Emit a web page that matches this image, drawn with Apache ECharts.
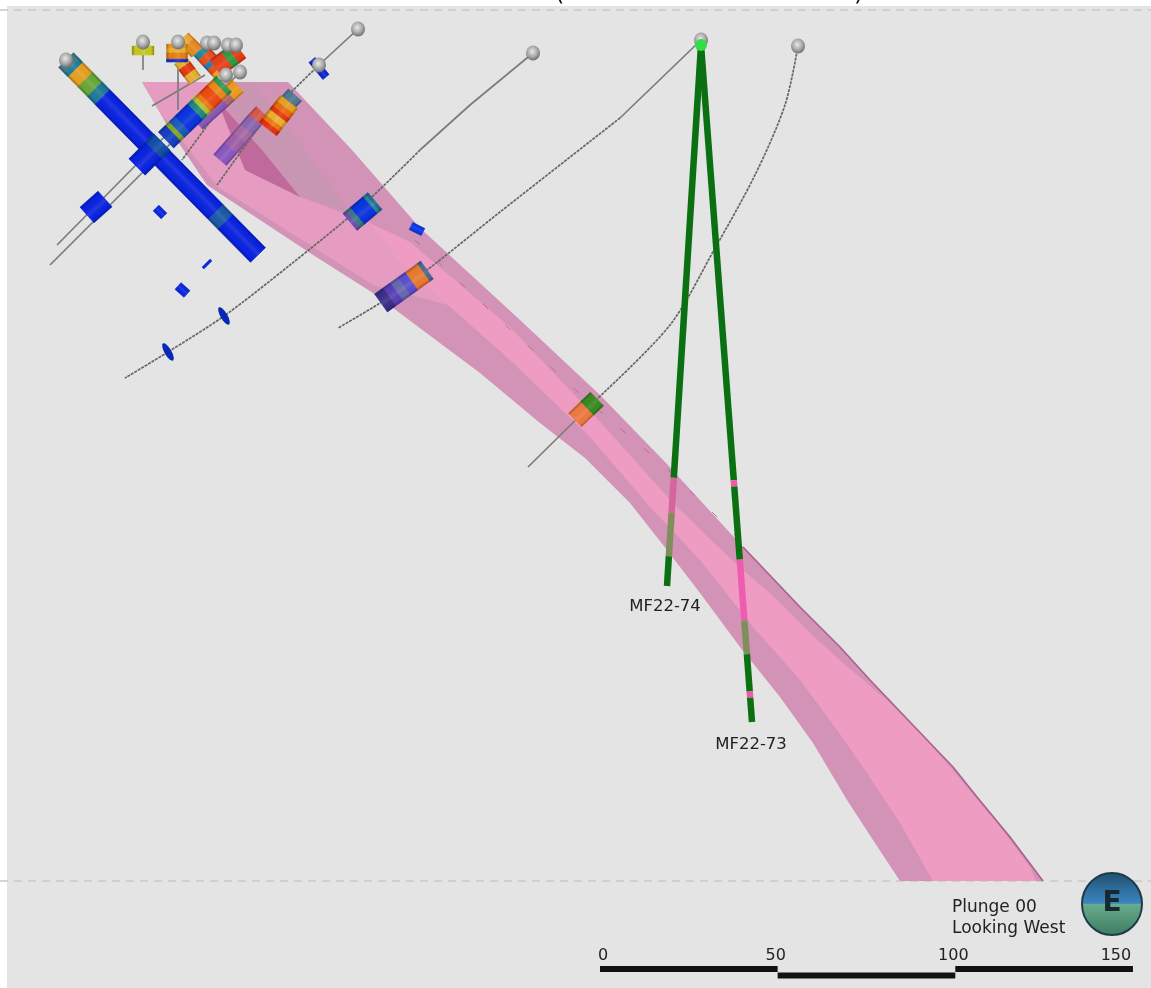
<!DOCTYPE html>
<html>
<head>
<meta charset="utf-8">
<style>html,body{margin:0;padding:0;background:#fff}#c{width:1151px;height:988px}</style>
<script src="https://cdn.jsdelivr.net/npm/echarts@6/dist/echarts.min.js"></script>
</head>
<body>
<div id="c"></div>
<script>
// Section outline and zones (section units)
var viewFrame = [[7,6],[1151,6],[1151,988],[7,988]];
var zoneOutline = [[142,82],[288,82],[352,150],[420,228],[520,320],[600,395],[665,462],[743,547],[800,607],[840,647],[870,680],[930,743],[953,767],[977,797],[1010,837],[1043,881],[900,881],[873,840],[847,800],[813,743],[780,697],[740,647],[700,593],[667,550],[630,503],[585,458],[540,423],[480,373],[373,293],[310,253],[207,185],[170,130]];
var upperLobe = [[142,82],[222,82],[222,100],[245,170],[300,197],[370,223],[420,250],[448,305],[373,285],[310,245],[218,187],[160,112]];
var coreRibbon = [[370,223],[410,242],[510,327],[603,425],[673,503],[737,565],[770,593],[810,633],[843,663],[887,700],[927,740],[967,787],[1000,827],[1030,867],[1036,881],[933,881],[900,823],[867,773],[837,730],[800,680],[753,627],[700,560],[650,507],[590,437],[510,360],[448,305],[400,262]];
var greyWedge = [[222,82],[253,83],[350,212],[300,197],[222,100]];
var darkWedge = [[217,100],[245,170],[300,197],[262,150]];
var zoneEdge = [[743,547],[800,607],[840,647],[870,680],[930,743],[953,767],[977,797],[1010,837],[1043,881]];
var innerTrace = [[415,240],[470,292],[570,385],[610,420],[660,462],[712,512],[745,545]];

// Drill traces
var traceSolid = [
  [[227,75],[133,168],[57,245]],
  [[240,72],[140,175],[50,265]],
  [[143,45],[143,70]],
  [[178,45],[178,110]],
  [[205,75],[152,106]],
  [[358,29],[319,65]],
  [[533,53],[470,105],[420,150]],
  [[701,40],[620,118]],
  [[597,399],[528,467]]
];
var traceDotted = [
  [[319,65],[285,98]],
  [[258,128],[217,185]],
  [[237,85],[182,160]],
  [[420,150],[363,205],[290,265],[224,316],[168,352],[125,378]],
  [[620,118],[500,212],[427,270],[380,303],[338,328]],
  [[798,46],[785,105],[755,175],[714,250],[670,325],[597,399]]
];

// Cored intervals: from, to, width, [end fraction, colour] bands
var coresBack = [
  {a:[183,38],b:[197,52],w:15,bands:[[0.4,'#f0a830'],[1,'#e88a20']]},
  {a:[180,60],b:[195,80],w:14,bands:[[0.3,'#e8b030'],[0.65,'#e63a10'],[1,'#e8b030']]},
  {a:[200,50],b:[222,74],w:17,bands:[[0.2,'#1f8a9a'],[0.45,'#e8501a'],[0.62,'#2a7ab8'],[0.82,'#e8501a'],[1,'#f0a030']]},
  {a:[240,50],b:[216,68],w:20,bands:[[0.3,'#e63a10'],[0.55,'#2f9a40'],[1,'#e8401a']]},
  {a:[238,86],b:[197,123],w:17,bands:[[0.22,'#ee9a20'],[0.38,'#b06a70'],[1,'#8a58b8']]},
  {a:[295,95],b:[270,122],w:18,bands:[[1,'#4f7a92']]},
  {a:[262,112],b:[250,125],w:16,bands:[[1,'#d8584a']]},
  {a:[255,120],b:[220,160],w:17,bands:[[0.25,'#8e66b0'],[0.45,'#a86aa8'],[0.7,'#a060a8'],[1,'#8a58c0']]}
];
var coresFront = [
  {a:[66,60],b:[258,255],w:21,bands:[[0.03,'#4a7c8c'],[0.05,'#1f7f9a'],[0.1,'#e8a020'],[0.15,'#6aa838'],[0.19,'#1f7a9a'],[0.78,'#0a23e0'],[0.83,'#1a5aa8'],[1,'#0a23e0']]},
  {a:[224,84],b:[166,140],w:22,bands:[[0.07,'#3a9a50'],[0.16,'#ee8a18'],[0.3,'#ef4a10'],[0.36,'#ee7a18'],[0.42,'#b8c030'],[0.5,'#1f8a80'],[0.72,'#0a35e0'],[0.82,'#1a5ac0'],[0.88,'#80a820'],[1,'#143fc0']]},
  {a:[162,142],b:[137,167],w:23,bands:[[0.35,'#124fa8'],[1,'#0a23e0']]},
  {a:[105,199],b:[87,215],w:21,bands:[[1,'#0a23e0']]},
  {a:[143,46],b:[143,55],w:22,bands:[[1,'#c8c820']]},
  {a:[177,44],b:[177,62],w:21,bands:[[0.25,'#ee9a20'],[0.5,'#f0b030'],[0.85,'#e88018'],[1,'#1030d0']]},
  {a:[289,102],b:[268,129],w:22,bands:[[0.2,'#e8a020'],[0.38,'#ee6a10'],[0.52,'#e63a10'],[0.72,'#f0b030'],[0.86,'#ee7a10'],[1,'#e8300c']]},
  {a:[375,201],b:[350,222],w:22,bands:[[0.1,'#1f6a9a'],[0.2,'#2a8a90'],[0.72,'#0a35e0'],[0.88,'#3a7a80'],[1,'#6a50b0']]},
  {a:[427,270],b:[381,303],w:22,bands:[[0.08,'#4a6a92'],[0.34,'#ea7a32'],[0.5,'#5a50d0'],[0.66,'#6a68b0'],[0.82,'#5a40b8'],[1,'#3a3088']]},
  {a:[597,399],b:[575,420],w:19,bands:[[0.46,'#3a8a20'],[1,'#ee7a40']]},
  {a:[156,208],b:[164,216],w:8,bands:[[1,'#0a28e0']]},
  {a:[178,286],b:[187,294],w:9,bands:[[1,'#0a28e0']]},
  {a:[203,268],b:[211,260],w:2.5,bands:[[1,'#0a28e0']]},
  {a:[411,226],b:[423,232],w:8,bands:[[1,'#0a38e8']]},
  {a:[312,60],b:[326,77],w:8,bands:[[1,'#0a28d8']]}
];
var blueLenses = [[224,316],[168,352]];

// The two named holes: collar, toe, [from, to, colour] fractions
var holeCollar = [701,45];
var hole74 = {toe:[667,586],intervals:[[0,0.80,'#0a7012'],[0.80,0.865,'#d8649e'],[0.865,0.945,'#7f8f5c'],[0.945,1,'#0a7012']]};
var hole73 = {toe:[752,722],intervals:[[0,0.643,'#0a7012'],[0.643,0.652,'#ee5aa8'],[0.652,0.76,'#0a7012'],[0.76,0.85,'#ee5cb0'],[0.85,0.90,'#7f8f5c'],[0.90,0.955,'#0a7012'],[0.955,0.964,'#ee5aa8'],[0.964,1,'#0a7012']]};
var holeLabels = [{name:'MF22-74',at:[665,607]},{name:'MF22-73',at:[751,745]}];

var collars = [[143,42],[178,42],[207,43],[214,43],[228,45],[236,45],[226,75],[240,72],[66,60],[358,29],[319,65],[533,53],[701,40],[798,46]];

// Scale
var scaleTicks = [0,50,100,150];
var scaleLabelNudge = [3,-2,-2,-17];
var scaleLevels = [969,975.5,969];
var scaleLabelY = 956;
var dashedRules = [10,881];
var plungeText = ['Plunge 00','Looking West'];
var plungeAt = [952,918];
var globeAt = [1112,904];

function polygonItem(points, fill){
  return function(params, api){
    return {type:'polygon', shape:{points:points.map(function(p){return api.coord(p);})}, style:{fill:fill}, silent:true};
  };
}
function polySeries(name, points, fill, z){
  return {type:'custom', name:name, coordinateSystem:'cartesian2d', data:[0], z:z, silent:true, clip:false, renderItem:polygonItem(points, fill)};
}
function quad(api, a, b, w){
  var p = api.coord(a), q = api.coord(b);
  var dx = q[0]-p[0], dy = q[1]-p[1], l = Math.sqrt(dx*dx+dy*dy)||1;
  var nx = -dy/l*w/2, ny = dx/l*w/2;
  return {pts:[[p[0]+nx,p[1]+ny],[q[0]+nx,q[1]+ny],[q[0]-nx,q[1]-ny],[p[0]-nx,p[1]-ny]], nx:nx, ny:ny, p:p, q:q};
}
function coreSeries(list, z){
  return {type:'custom', coordinateSystem:'cartesian2d', data:list.map(function(_,i){return i;}), z:z, silent:true, clip:false,
    renderItem:function(params, api){
      var c = list[params.dataIndex], kids = [], start = 0;
      c.bands.forEach(function(bd){
        var A = [c.a[0]+(c.b[0]-c.a[0])*start, c.a[1]+(c.b[1]-c.a[1])*start];
        var B = [c.a[0]+(c.b[0]-c.a[0])*bd[0], c.a[1]+(c.b[1]-c.a[1])*bd[0]];
        kids.push({type:'polygon', shape:{points:quad(api,A,B,c.w).pts}, style:{fill:bd[1], stroke:bd[1], lineWidth:0.6}});
        start = bd[0];
      });
      var o = quad(api,c.a,c.b,c.w);
      if (c.w > 6) kids.push({type:'polygon', shape:{points:o.pts}, style:{
        fill:new echarts.graphic.LinearGradient(o.p[0]+o.nx,o.p[1]+o.ny,o.p[0]-o.nx,o.p[1]-o.ny,[
          {offset:0,color:'rgba(0,0,40,0.3)'},{offset:0.16,color:'rgba(0,0,0,0)'},{offset:0.55,color:'rgba(255,255,255,0.1)'},{offset:0.85,color:'rgba(0,0,0,0)'},{offset:1,color:'rgba(0,0,40,0.3)'}],true)
      }});
      return {type:'group', children:kids};
    }};
}
function lineSeries(points, color, width, dash, z, smooth){
  return {type:'line', data:points, symbol:'none', z:z, silent:true, clip:false, smooth:smooth||false, animation:false,
    lineStyle:{color:color, width:width, type:dash||'solid'}};
}
function holeSeries(hole, z){
  return {type:'custom', coordinateSystem:'cartesian2d', data:hole.intervals.map(function(_,i){return i;}), z:z, silent:true, clip:false,
    renderItem:function(params, api){
      var t = hole.intervals[params.dataIndex];
      var at = function(f){return [holeCollar[0]+(hole.toe[0]-holeCollar[0])*f, holeCollar[1]+(hole.toe[1]-holeCollar[1])*f];};
      return {type:'polygon', shape:{points:quad(api,at(t[0]),at(t[1]),6.5).pts}, style:{fill:t[2]}};
    }};
}

var series = [];
series.push(polySeries('frame', viewFrame, '#e4e4e4', 1));
dashedRules.forEach(function(y){
  series.push(lineSeries([[0,y],[1151,y]], '#c8c8c8', 1.4, [8,6], 2));
});
series.push(polySeries('zone', zoneOutline, '#d293b6', 3));
series.push(polySeries('lobe', upperLobe, '#e69cc1', 4));
series.push(polySeries('core', coreRibbon, '#ee9cc2', 4));
series.push(polySeries('grey', greyWedge, '#c896b2', 5));
series.push(polySeries('dark', darkWedge, '#c06a9c', 6));
series.push(lineSeries(zoneEdge, '#a8628c', 1.6, 'solid', 7));
series.push(lineSeries(innerTrace, '#b86e98', 1, [7,24], 7));
traceSolid.forEach(function(t){ series.push(lineSeries(t, '#7c7c7c', 1.7, 'solid', 8)); });
traceDotted.forEach(function(t){ series.push(lineSeries(t, '#666666', 1.7, [3,1], 8, 0.3)); });
series.push(coreSeries(coresBack, 9));
series.push(coreSeries(coresFront, 10));
series.push({type:'scatter', data:blueLenses, symbol:'circle', symbolSize:[7,20], symbolRotate:30, z:10, silent:true, clip:false, itemStyle:{color:'#0a28b8', opacity:1}});
series.push(holeSeries(hole74, 11));
series.push(holeSeries(hole73, 11));
series.push({type:'scatter', data:collars, symbol:'circle', symbolSize:[14,15], z:12, silent:true, clip:false,
  itemStyle:{opacity:1, color:new echarts.graphic.RadialGradient(0.45,0.4,0.6,[{offset:0,color:'#e8e8e8'},{offset:0.6,color:'#a8a8a8'},{offset:1,color:'#6e6e6e'}])}});
series.push({type:'scatter', data:[holeCollar], symbol:'circle', symbolSize:12, z:13, silent:true, clip:false,
  itemStyle:{opacity:1, color:'#35dc4a'}});
series.push({type:'scatter', data:holeLabels.map(function(l){return {value:l.at, label:{formatter:l.name}};}), symbolSize:0, z:14, silent:true, clip:false,
  itemStyle:{opacity:1},
  label:{show:true, position:'inside', fontFamily:'DejaVu Sans', fontSize:16.5, color:'#222'}});
series.push({type:'scatter', data:[plungeAt], symbolSize:0, z:14, silent:true, clip:false,
  itemStyle:{opacity:1},
  label:{show:true, position:'right', distance:0, formatter:plungeText.join('\n'), fontFamily:'DejaVu Sans', fontSize:17, lineHeight:21, color:'#222'}});
series.push({type:'scatter', data:[globeAt], symbol:'circle', symbolSize:[60,62], z:14, silent:true, clip:false,
  itemStyle:{opacity:1, color:new echarts.graphic.LinearGradient(0,0,0,1,[{offset:0,color:'#1f4f70'},{offset:0.49,color:'#3c85c0'},{offset:0.5,color:'#68ad8e'},{offset:1,color:'#3c7b60'}]),
    borderColor:'#1e3a4a', borderWidth:2},
  label:{show:true, position:'inside', formatter:'E', fontFamily:'DejaVu Sans', fontWeight:'bold', fontSize:28, color:'#142a30'}});
// scale bar, on the scale axis
for (var i=0;i<scaleTicks.length-1;i++){
  series.push({type:'line', xAxisIndex:1, data:[[scaleTicks[i],scaleLevels[i]],[scaleTicks[i+1],scaleLevels[i]]], symbol:'none', z:14, silent:true, clip:false,
    lineStyle:{color:'#111', width:6, cap:'butt'}});
}
series.push({type:'scatter', xAxisIndex:1,
  data:scaleTicks.map(function(t,k){return {value:[t,scaleLabelY], label:{offset:[scaleLabelNudge[k],0]}};}),
  symbolSize:0, z:14, silent:true, clip:false, itemStyle:{opacity:1},
  label:{show:true, position:'inside', formatter:function(p){return String(p.value[0]);}, fontFamily:'DejaVu Sans', fontSize:16, color:'#222'}});

var chart = echarts.init(document.getElementById('c'), null, {renderer:'canvas'});
var unitsPerStep = 3.553;
chart.setOption({
  animation:false,
  backgroundColor:'#ffffff',
  grid:{left:0, right:0, top:0, bottom:0, containLabel:false},
  xAxis:[
    {type:'value', min:0, max:1151, show:false},
    {type:'value', min:-600/unitsPerStep, max:(1151-600)/unitsPerStep, show:false}
  ],
  yAxis:{type:'value', min:0, max:988, inverse:true, show:false},
  series:series,
  graphic:[
    {type:'text', left:555, top:-18, z:20, style:{text:'(', font:'24px DejaVu Sans', fill:'#111'}},
    {type:'text', left:854, top:-18, z:20, style:{text:')', font:'24px DejaVu Sans', fill:'#111'}}
  ]
});
</script>
</body>
</html>
